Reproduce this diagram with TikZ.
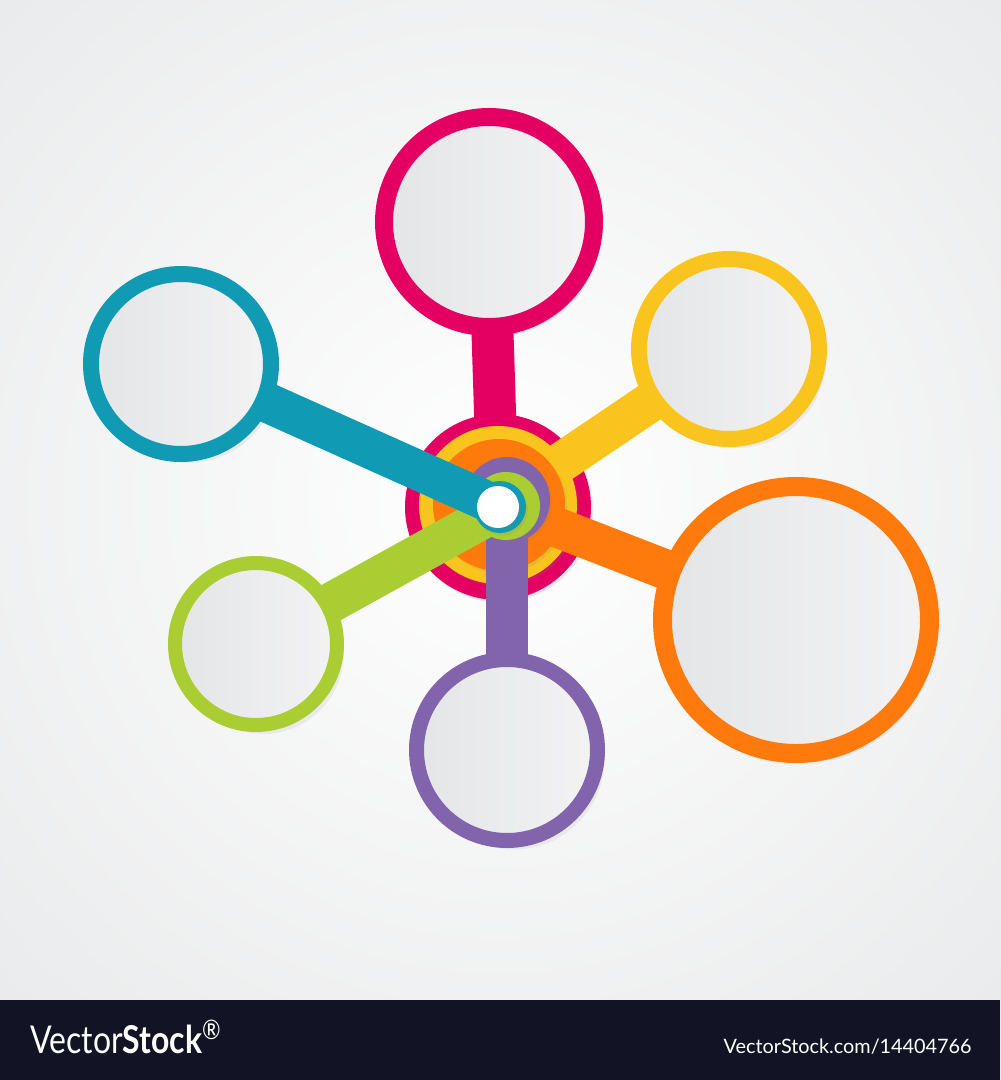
\documentclass[tikz,border=0pt]{standalone}
\usepackage{graphicx}
\usepackage{fontspec}
\newfontfamily\logofont{Lato}
\usetikzlibrary{shadows}
\definecolor{cmag}{RGB}{228,0,98}
\definecolor{cyel}{RGB}{250,196,30}
\definecolor{cora}{RGB}{255,122,12}
\definecolor{cblu}{RGB}{16,154,180}
\definecolor{cgrn}{RGB}{170,205,52}
\definecolor{cpur}{RGB}{130,100,172}
\definecolor{ginl}{RGB}{228,229,231}
\definecolor{ginr}{RGB}{243,243,244}
\definecolor{bgedge}{RGB}{234,235,236}
\definecolor{cbar}{RGB}{18,20,38}

\begin{document}
\begin{tikzpicture}
		[x=0.2mm, y=-0.2mm, inner sep=0pt,
		bubble/.style	= {circle, outer sep=0pt, draw=#1, left color=ginl, right color=ginr, drop shadow={opacity=.1, shadow xshift=1.4mm, shadow yshift=-1.8mm}},
		hub/.style	= {circle, outer sep=0pt, fill=#1, drop shadow={opacity=.15, shadow xshift=.4mm, shadow yshift=-.5mm}},
		arm/.style	= {draw=#1, line width=8mm},
		stamp/.style	= {text=white, inner sep=0pt}]
		
		\useasboundingbox (0, 0) rectangle (1000, 1080);
		\shade [inner color=white, outer color=bgedge] (-200, -200) rectangle (1200, 1200);
		\fill [cbar] (0, 1000) rectangle (1000, 1080);
		
		\node at (489, 222)	[bubble=cmag, minimum size=42mm, line width=3.6mm]	(bm)	{};
		\node at (729, 349)	[bubble=cyel, minimum size=36mm, line width=3.2mm]	(by)	{};
		\node at (796, 620)	[bubble=cora, minimum size=53.4mm, line width=3.8mm]	(bo)	{};
		\node at (507, 750)	[bubble=cpur, minimum size=36.2mm, line width=3mm]	(bp)	{};
		\node at (256, 644)	[bubble=cgrn, minimum size=32.4mm, line width=2.8mm]	(bg)	{};
		\node at (181, 364)	[bubble=cblu, minimum size=36mm, line width=3.2mm]	(bb)	{};
		
		\node at (498, 507)	[hub=cmag, minimum size=37.2mm]	(hm)	{};
		\draw [arm=cmag, line width=8.4mm] (bm) -- (hm.center);
		\node at (498, 505)	[hub=cyel, minimum size=31.6mm]	(hy)	{};
		\draw [arm=cyel] (by) -- (hy.center);
		\node at (499, 505)	[hub=cora, minimum size=26.4mm]	(ho)	{};
		\draw [arm=cora] (bo) -- (ho.center);
		\node at (507, 500)	[hub=cpur, minimum size=17.2mm]	(hp)	{};
		\draw [arm=cpur, line width=8.4mm] (bp) -- (hp.center);
		\node at (506, 506)	[hub=cgrn, minimum size=13.6mm]	(hg)	{};
		\draw [arm=cgrn] (bg) -- (hg.center);
		\node at (500, 507)	[hub=cblu, minimum size=10.4mm]	(hb)	{};
		\draw [arm=cblu] (bb) -- (hb.center);
		\node at (498, 507)	[hub=white, minimum size=8.4mm]	(hw)	{};
		
		\node at (30, 1053)	[stamp, anchor=base west]	(logo)	{\resizebox{38.4mm}{!}{\scalebox{1}[1.2]{\logofont Vector\textbf{Stock}\textsuperscript{®}}}};
		\node at (972, 1053)	[stamp, anchor=base east]	(ref)	{\resizebox{49.6mm}{!}{\logofont VectorStock.com/14404766}};
		
\end{tikzpicture}
\end{document}
